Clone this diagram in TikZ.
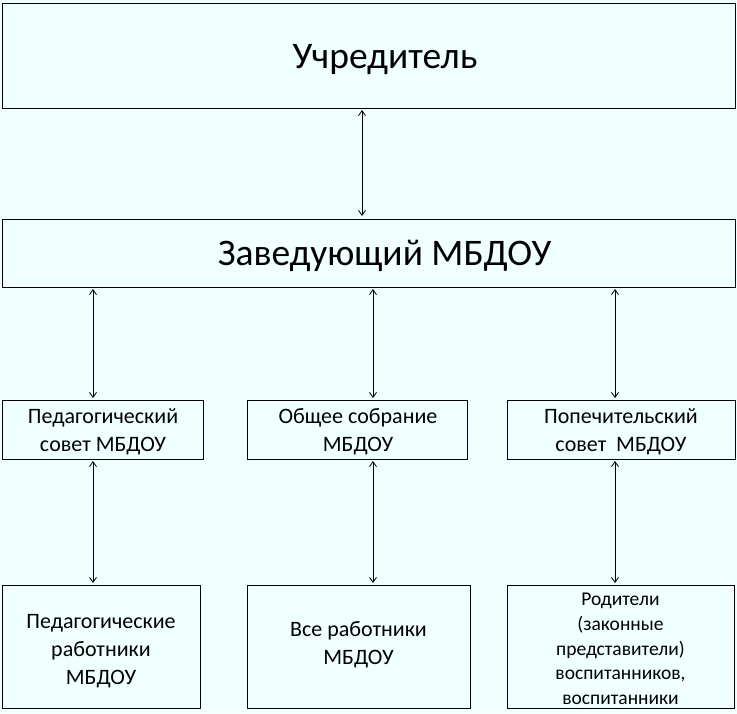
\documentclass[tikz,border=0pt]{standalone}
\usepackage{fontspec}
\setmainfont{Carlito}
\usetikzlibrary{arrows.meta}
\definecolor{bg}{HTML}{F0FFFF}
\begin{document}
\begin{tikzpicture}[x=1pt,y=-1pt,
  box/.style={draw=black,line width=1pt,fill=bg,inner sep=0pt},
  lbl/.style={align=center,font=\fontsize{22}{28}\selectfont},
  big/.style={align=center,font=\fontsize{37.5}{40}\selectfont},
  conn/.style={line width=0.8pt,{Straight Barb[length=5pt,width=7pt]}-{Straight Barb[length=5pt,width=7pt]}}]
\fill[bg] (0,0) rectangle (737,713);
\useasboundingbox (0,0) rectangle (737,713);
% boxes
\draw[box] (2,3) rectangle (735,108);
\node[big] (u) at (385,60) {Учредитель};
\draw[box] (2,219) rectangle (735,287);
\node[big] (z) at (384.5,256) {Заведующий МБДОУ};
\draw[box] (2,400) rectangle (203,459);
\node[lbl] (p1) at (103,432) {Педагогический\\совет МБДОУ};
\draw[box] (247,400) rectangle (467,459);
\node[lbl] (p2) at (358,432) {Общее собрание\\МБДОУ};
\draw[box] (507,400) rectangle (735,459);
\node[lbl] (p3) at (621,432) {Попечительский\\совет\ \ МБДОУ};
\draw[box] (2,585) rectangle (200,708);
\node[lbl] (b1) at (101,651) {Педагогические\\работники\\МБДОУ};
\draw[box] (247,585) rectangle (470,708);
\node[lbl] (b2) at (358.5,645) {Все работники\\МБДОУ};
\draw[box] (507,585) rectangle (734,708);
\node[lbl,font=\fontsize{19.5}{24.6}\selectfont] (b3) at (620.5,649) {Родители\\(законные\\представители)\\воспитанников,\\воспитанники};
% connector anchors
\coordinate (a0) at (362,110); \coordinate (a1) at (362,216);
\coordinate (c1t) at (93,289); \coordinate (c1b) at (93,398);
\coordinate (c2t) at (373,289); \coordinate (c2b) at (373,398);
\coordinate (c3t) at (615,289); \coordinate (c3b) at (615,398);
\coordinate (d1t) at (93,461); \coordinate (d1b) at (93,583);
\coordinate (d2t) at (373,461); \coordinate (d2b) at (373,583);
\coordinate (d3t) at (615,461); \coordinate (d3b) at (615,583);
\draw[conn] (a0) -- (a1);
\draw[conn] (c1t) -- (c1b);
\draw[conn] (c2t) -- (c2b);
\draw[conn] (c3t) -- (c3b);
\draw[conn] (d1t) -- (d1b);
\draw[conn] (d2t) -- (d2b);
\draw[conn] (d3t) -- (d3b);
\end{tikzpicture}
\end{document}
